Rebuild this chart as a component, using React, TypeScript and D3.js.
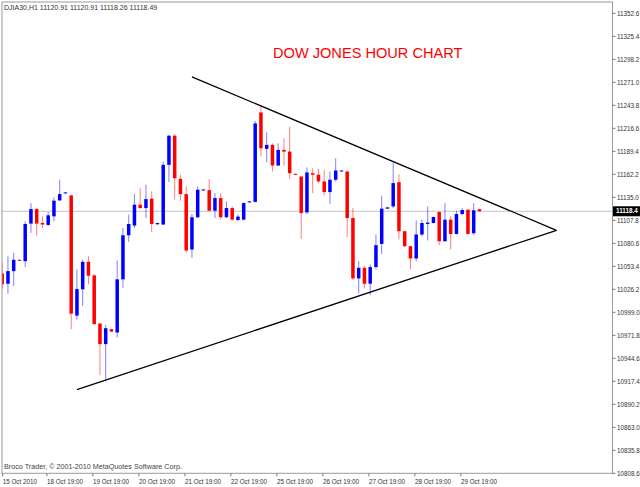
// DJIA30 H1 candlestick chart with a symmetrical triangle drawn over it

import * as d3 from "d3";

const W = 640;
const H = 487;

// hourly bars, 15 Oct 2010 .. 29 Oct 2010
const opens = [
  11045.0, 11032.8, 11047.7, 11061.1, 11059.5, 11103.9, 11121.1, 11104.6, 11102.3, 11112.5,
  11131.4, 11140.0, 11137.3, 10995.1, 11026.2, 11058.7, 11042.7, 10985.7, 10961.4, 10979.1,
  10975.1, 11038.0, 11090.1, 11101.6, 11126.3, 11122.3, 11133.4, 11103.1, 11102.8, 11173.4,
  11207.9, 11156.9, 11138.8, 11073.3, 11111.4, 11143.2, 11143.5, 11119.2, 11134.1, 11111.4,
  11122.3, 11108.2, 11108.6, 11129.0, 11129.6, 11235.4, 11192.3, 11197.0, 11172.6, 11191.1,
  11189.1, 11162.8, 11159.6, 11117.2, 11163.5, 11161.7, 11153.8, 11141.2, 11155.8, 11165.9,
  11165.5, 11110.5, 11039.1, 11051.6, 11032.8, 11052.5, 11079.9, 11121.6, 11124.3, 11152.9,
  11094.9, 11077.2, 11062.7, 11091.0, 11103.5, 11104.6, 11117.6, 11083.1, 11108.6, 11091.7,
  11115.2, 11120.4, 11092.5, 11120.91,
];
const highs = [
  11057.5, 11065.4, 11069.3, 11061.6, 11106.6, 11128.2, 11122.3, 11112.5, 11117.6, 11134.9,
  11155.8, 11141.4, 11137.8, 11049.7, 11061.1, 11065.4, 11043.9, 10986.0, 10984.1, 10979.4,
  11060.3, 11098.7, 11114.5, 11139.3, 11145.9, 11149.9, 11142.0, 11105.1, 11177.3, 11208.8,
  11210.0, 11161.7, 11147.9, 11115.2, 11147.9, 11144.7, 11156.5, 11140.0, 11140.0, 11130.2,
  11124.3, 11114.5, 11129.0, 11130.6, 11225.3, 11244.1, 11211.8, 11198.9, 11198.9, 11204.8,
  11218.5, 11163.2, 11160.0, 11170.3, 11169.4, 11168.7, 11167.5, 11165.5, 11181.2, 11167.1,
  11166.4, 11122.3, 11059.5, 11053.6, 11055.6, 11091.0, 11136.9, 11123.5, 11176.1, 11162.4,
  11095.0, 11077.5, 11107.5, 11108.6, 11124.3, 11112.5, 11118.4, 11128.2, 11112.5, 11119.2,
  11122.3, 11120.6, 11128.2, 11120.91,
];
const lows = [
  11026.9, 11021.0, 11030.1, 11059.5, 11052.5, 11092.9, 11089.0, 11098.7, 11101.5, 11106.6,
  11130.5, 11139.6, 10979.1, 10990.4, 11006.5, 11032.1, 10984.5, 10924.9, 10917.3, 10975.9,
  10969.2, 11028.1, 11082.3, 11098.7, 11121.6, 11110.5, 11094.0, 11102.8, 11102.4, 11152.9,
  11132.2, 11131.0, 11069.3, 11063.4, 11110.5, 11142.8, 11118.4, 11110.5, 11108.6, 11110.5,
  11107.5, 11106.6, 11107.5, 11128.7, 11129.2, 11183.2, 11176.5, 11165.5, 11172.0, 11172.6,
  11156.9, 11161.3, 11085.8, 11115.2, 11140.0, 11151.8, 11137.3, 11127.0, 11153.8, 11165.5,
  11087.8, 11037.1, 11021.0, 11027.4, 11019.5, 11049.7, 11068.1, 11121.4, 11122.3, 11085.1,
  11076.0, 11049.7, 11059.5, 11089.0, 11083.9, 11104.2, 11078.4, 11082.3, 11073.3, 11091.0,
  11113.7, 11091.0, 11090.1, 11118.26,
];
const closes = [
  11032.1, 11047.7, 11061.1, 11059.9, 11103.5, 11121.1, 11103.9, 11102.8, 11113.7, 11131.0,
  11138.8, 11140.8, 10997.4, 11026.5, 11058.7, 11042.2, 10985.0, 10961.4, 10980.2, 10976.2,
  11038.0, 11090.1, 11103.5, 11126.3, 11122.3, 11132.9, 11103.5, 11104.6, 11173.4, 11207.9,
  11157.6, 11138.8, 11072.1, 11111.4, 11144.0, 11144.3, 11119.2, 11134.1, 11111.4, 11122.3,
  11108.6, 11112.2, 11128.2, 11130.2, 11222.4, 11193.0, 11197.0, 11172.6, 11191.1, 11189.1,
  11163.5, 11161.7, 11116.4, 11164.4, 11161.7, 11153.8, 11141.2, 11155.8, 11166.7, 11166.7,
  11110.5, 11039.1, 11051.6, 11032.8, 11052.5, 11078.4, 11121.6, 11123.1, 11151.8, 11094.9,
  11077.2, 11062.7, 11091.0, 11104.6, 11105.1, 11111.7, 11083.1, 11108.6, 11091.7, 11115.2,
  11120.0, 11091.7, 11119.6, 11118.49,
];

const priceTicks = [
  "11352.6", "11325.4", "11298.2", "11271.0", "11243.8", "11216.6", "11189.4",
  "11162.2", "11135.0", "11107.8", "11080.6", "11053.4", "11026.2", "10999.0",
  "10971.8", "10944.6", "10917.4", "10890.2", "10863.0", "10835.8", "10808.6",
];

const timeLabels = [
  "15 Oct 2010", "18 Oct 19:00", "19 Oct 19:00", "20 Oct 19:00", "21 Oct 19:00",
  "22 Oct 19:00", "25 Oct 19:00", "26 Oct 19:00", "27 Oct 19:00", "28 Oct 19:00",
  "29 Oct 19:00",
];
const timeLabelBars = [0, 8, 16, 24, 32, 40, 48, 56, 64, 72, 80];

// triangle trendlines: [bar index, price]
const upperLine: [number, number][] = [[33, 11277.4], [96.4, 11096.0]];
const lowerLine: [number, number][] = [[13, 10907.6], [96.4, 11096.0]];

const lastPrice = 11118.49;
const header = "DJIA30,H1  11120.91 11120.91 11118.26 11118.49";

export default function App() {
  const left = 2;
  const right = 612.5;
  const top = 2;
  const bottom = 473.3;

  const x = d3.scaleLinear().domain([0, 83]).range([2.2, 2.2 + 5.75 * 83]);
  const y = d3.scaleLinear().domain([10808.6, 11366.0]).range([bottom, top]);

  const bodyW = 3.5;
  const line = d3
    .line<[number, number]>()
    .x((d) => x(d[0]))
    .y((d) => y(d[1]));

  const font = "'Liberation Sans', Arial, sans-serif";
  const small = { fontFamily: font, fontSize: 6.3 };

  return (
    <svg
      width={W}
      height={H}
      style={{ position: "absolute", left: 0, top: 0, background: "#fff" }}
    >
      <defs>
        <clipPath id="plot">
          <rect x={left} y={top} width={right - left} height={bottom - top} />
        </clipPath>
      </defs>

      {/* current price line */}
      <line
        x1={left}
        x2={right}
        y1={y(lastPrice)}
        y2={y(lastPrice)}
        stroke="#c4c4c4"
        strokeWidth={1}
      />

      <g clipPath="url(#plot)">
        {opens.map((o, i) => {
          const c = closes[i];
          const up = c >= o;
          const col = up ? "#0000ff" : "#ff0000";
          const y0 = y(Math.max(o, c));
          const h = Math.max(1, y(Math.min(o, c)) - y0);
          return (
            <g key={i}>
              <line
                x1={x(i)}
                x2={x(i)}
                y1={y(highs[i])}
                y2={y(lows[i])}
                stroke={col}
                strokeOpacity={0.5}
                strokeWidth={1}
              />
              <rect x={x(i) - bodyW / 2} y={y0} width={bodyW} height={h} fill={col} />
            </g>
          );
        })}
      </g>

      {/* triangle */}
      <path d={line(upperLine) || ""} fill="none" stroke="#000" strokeWidth={1.3} />
      <path d={line(lowerLine) || ""} fill="none" stroke="#000" strokeWidth={1.3} />

      {/* frame */}
      <rect
        x={left}
        y={top}
        width={right - left}
        height={bottom - top}
        fill="none"
        stroke="#9a9a9a"
        strokeWidth={1}
      />

      {/* price axis */}
      {priceTicks.map((t) => (
        <g key={t} transform={`translate(0,${y(+t)})`}>
          <line x1={right} x2={right + 3} stroke="#777" />
          <text x={617} dy="0.35em" fill="#333" style={small}>
            {t}
          </text>
        </g>
      ))}
      <rect x={613} y={y(lastPrice) - 5} width={27} height={10} fill="#000" />
      <text
        x={616}
        y={y(lastPrice)}
        dy="0.35em"
        fill="#fff"
        style={{ ...small, fontWeight: "bold" }}
      >
        {lastPrice.toFixed(2).slice(0, 7)}
      </text>

      {/* time axis */}
      {timeLabels.map((t, k) => {
        const tx = Math.max(left + 0.7, x(timeLabelBars[k]) - 1.3);
        return (
          <g key={t}>
            <line x1={tx} x2={tx} y1={bottom} y2={bottom + 3} stroke="#777" />
            <text x={tx} y={483.5} fill="#333" style={small}>
              {t}
            </text>
          </g>
        );
      })}

      <text x={4} y={9.5} fill="#333" style={{ fontFamily: font, fontSize: 7 }}>
        {header}
      </text>
      <text x={4} y={469} fill="#444" style={{ fontFamily: font, fontSize: 7.2 }}>
        Broco Trader, © 2001-2010 MetaQuotes Software Corp.
      </text>

      <text x={273} y={58} fill="#ff0000" style={{ fontFamily: font, fontSize: 14.6 }}>
        DOW JONES HOUR CHART
      </text>
    </svg>
  );
}
